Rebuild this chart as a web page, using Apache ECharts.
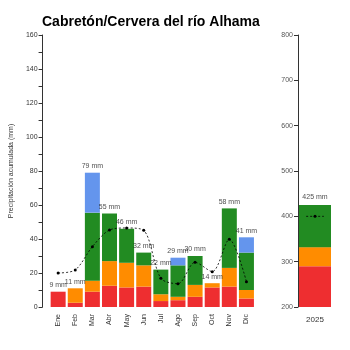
<!DOCTYPE html>
<html><head><meta charset="utf-8">
<script src="https://cdn.jsdelivr.net/npm/echarts@6/dist/echarts.min.js"></script>
<style>html,body{margin:0;padding:0;background:#fff}#c{width:350px;height:350px}</style>
</head><body><div id="c"></div>
<script>
var months = ['Ene','Feb','Mar','Abr','May','Jun','Jul','Ago','Sep','Oct','Nov','Dic'];
var redVals    = [9, 2.5, 9, 12.5, 11.5, 12, 3.5, 4, 6, 11.5, 12, 5];
var orangeVals = [0, 8.5, 6.5, 14.5, 14.5, 12.5, 4, 2, 7, 2.5, 11, 5];
var greenVals  = [0, 0, 40, 28, 20, 7.5, 14.5, 18.5, 17, 0, 35, 22];
var blueVals   = [0, 0, 23.5, 0, 0, 0, 0, 4.5, 0, 0, 0, 9];
var meanVals   = [20, 21.8, 35.5, 45.3, 46.5, 45.1, 16.9, 13.7, 26.3, 20.8, 39.8, 14.9];
var yearCat = ['2025'];
var yearRed = [290], yearOrange = [42], yearGreen = [93];
var yearTotalLabel = [425];
var yearMean = [400];
var leftTicks = [0, 160, 20];
var rightTicks = [200, 800, 100];

var colors = {red:'#EE2E30', orange:'#FF8C00', green:'#228B22', blue:'#6495ED'};
var totals = months.map(function(m,i){return Math.round(redVals[i]+orangeVals[i]+greenVals[i]+blueVals[i]);});
var FF = 'Liberation Sans, Arial, sans-serif';

function barS(name, data, color, xi){
  return {type:'bar', name:name, stack:'s'+xi, xAxisIndex:xi, yAxisIndex:xi, data:data,
    barWidth: xi===0?15:32, itemStyle:{color:color}, silent:true, animation:false};
}
var chart = echarts.init(document.getElementById('c'), null, {renderer:'canvas'});
chart.setOption({
  animation:false,
  textStyle:{fontFamily:FF},
  title:{text:'Cabretón/Cervera del río Alhama', left:37, top:10,
    textStyle:{fontFamily:FF, fontWeight:'bold', fontSize:14, color:'#000'}},
  grid:[{left:40.8, right:95, top:35, bottom:43},
        {left:298, width:34, top:35, bottom:43}],
  xAxis:[
    {type:'category', gridIndex:0, data:months, axisLine:{show:false}, axisTick:{show:false},
     axisLabel:{rotate:90, fontSize:7, color:'#333', margin:7, fontFamily:FF}},
    {type:'category', gridIndex:1, data:yearCat, axisLine:{show:false}, axisTick:{show:false},
     axisLabel:{fontSize:8, color:'#333', margin:9, fontFamily:FF}}
  ],
  yAxis:[
    {type:'value', gridIndex:0, min:leftTicks[0], max:leftTicks[1], interval:leftTicks[2], offset:7,
     name:'Precipitación acumulada (mm)', nameLocation:'middle', nameGap:26,
     nameTextStyle:{fontSize:7, color:'#333', fontFamily:FF},
     axisLine:{show:true, lineStyle:{color:'#333', width:1}},
     axisTick:{show:true, length:4, lineStyle:{color:'#333'}},
     minorTick:{show:true, splitNumber:2, length:4, lineStyle:{color:'#333'}},
     splitLine:{show:false},
     axisLabel:{fontSize:7, color:'#333', margin:5, fontFamily:FF}},
    {type:'value', gridIndex:1, min:rightTicks[0], max:rightTicks[1], interval:rightTicks[2],
     axisLine:{show:true, lineStyle:{color:'#333', width:1}},
     axisTick:{show:true, length:4, lineStyle:{color:'#333'}},
     splitLine:{show:false},
     axisLabel:{fontSize:7, color:'#555', margin:5, fontFamily:FF}}
  ],
  series:[
    barS('r', redVals, colors.red, 0),
    barS('o', orangeVals, colors.orange, 0),
    barS('g', greenVals, colors.green, 0),
    barS('b', blueVals, colors.blue, 0),
    {type:'scatter', xAxisIndex:0, yAxisIndex:0, symbolSize:0, silent:true,
     data: totals.map(function(t,i){return [i,t];}),
     label:{show:true, position:'top', distance:3, fontSize:7, color:'#222', fontFamily:FF,
       formatter:function(p){return p.value[1]+' mm';}}},
    {type:'line', xAxisIndex:0, yAxisIndex:0, data:meanVals, smooth:0.3, silent:true,
     symbol:'circle', symbolSize:3, itemStyle:{color:'#000'},
     lineStyle:{color:'#000', width:0.8, type:[2,2]}, z:5},
    barS('r2', yearRed, colors.red, 1),
    barS('o2', yearOrange, colors.orange, 1),
    barS('g2', yearGreen, colors.green, 1),
    {type:'scatter', xAxisIndex:1, yAxisIndex:1, symbolSize:0, silent:true,
     data: yearTotalLabel.map(function(t,i){return [i,t];}),
     label:{show:true, position:'top', distance:4, fontSize:7, color:'#222', fontFamily:FF,
       formatter:function(p){return p.value[1]+' mm';}}},
    {type:'custom', xAxisIndex:1, yAxisIndex:1, silent:true, z:5,
     data: yearMean.map(function(v,i){return [i,v];}),
     renderItem:function(params, api){
       var p = api.coord([api.value(0), api.value(1)]);
       var w = api.size([1,0])[0];
       return {type:'group', children:[
         {type:'line', shape:{x1:p[0]-w*0.26, y1:p[1], x2:p[0]+w*0.26, y2:p[1]},
          style:{stroke:'#000', lineWidth:0.8, lineDash:[2,2]}},
         {type:'circle', shape:{cx:p[0], cy:p[1], r:1.5}, style:{fill:'#000'}}
       ]};
     }}
  ]
});
</script></body></html>
